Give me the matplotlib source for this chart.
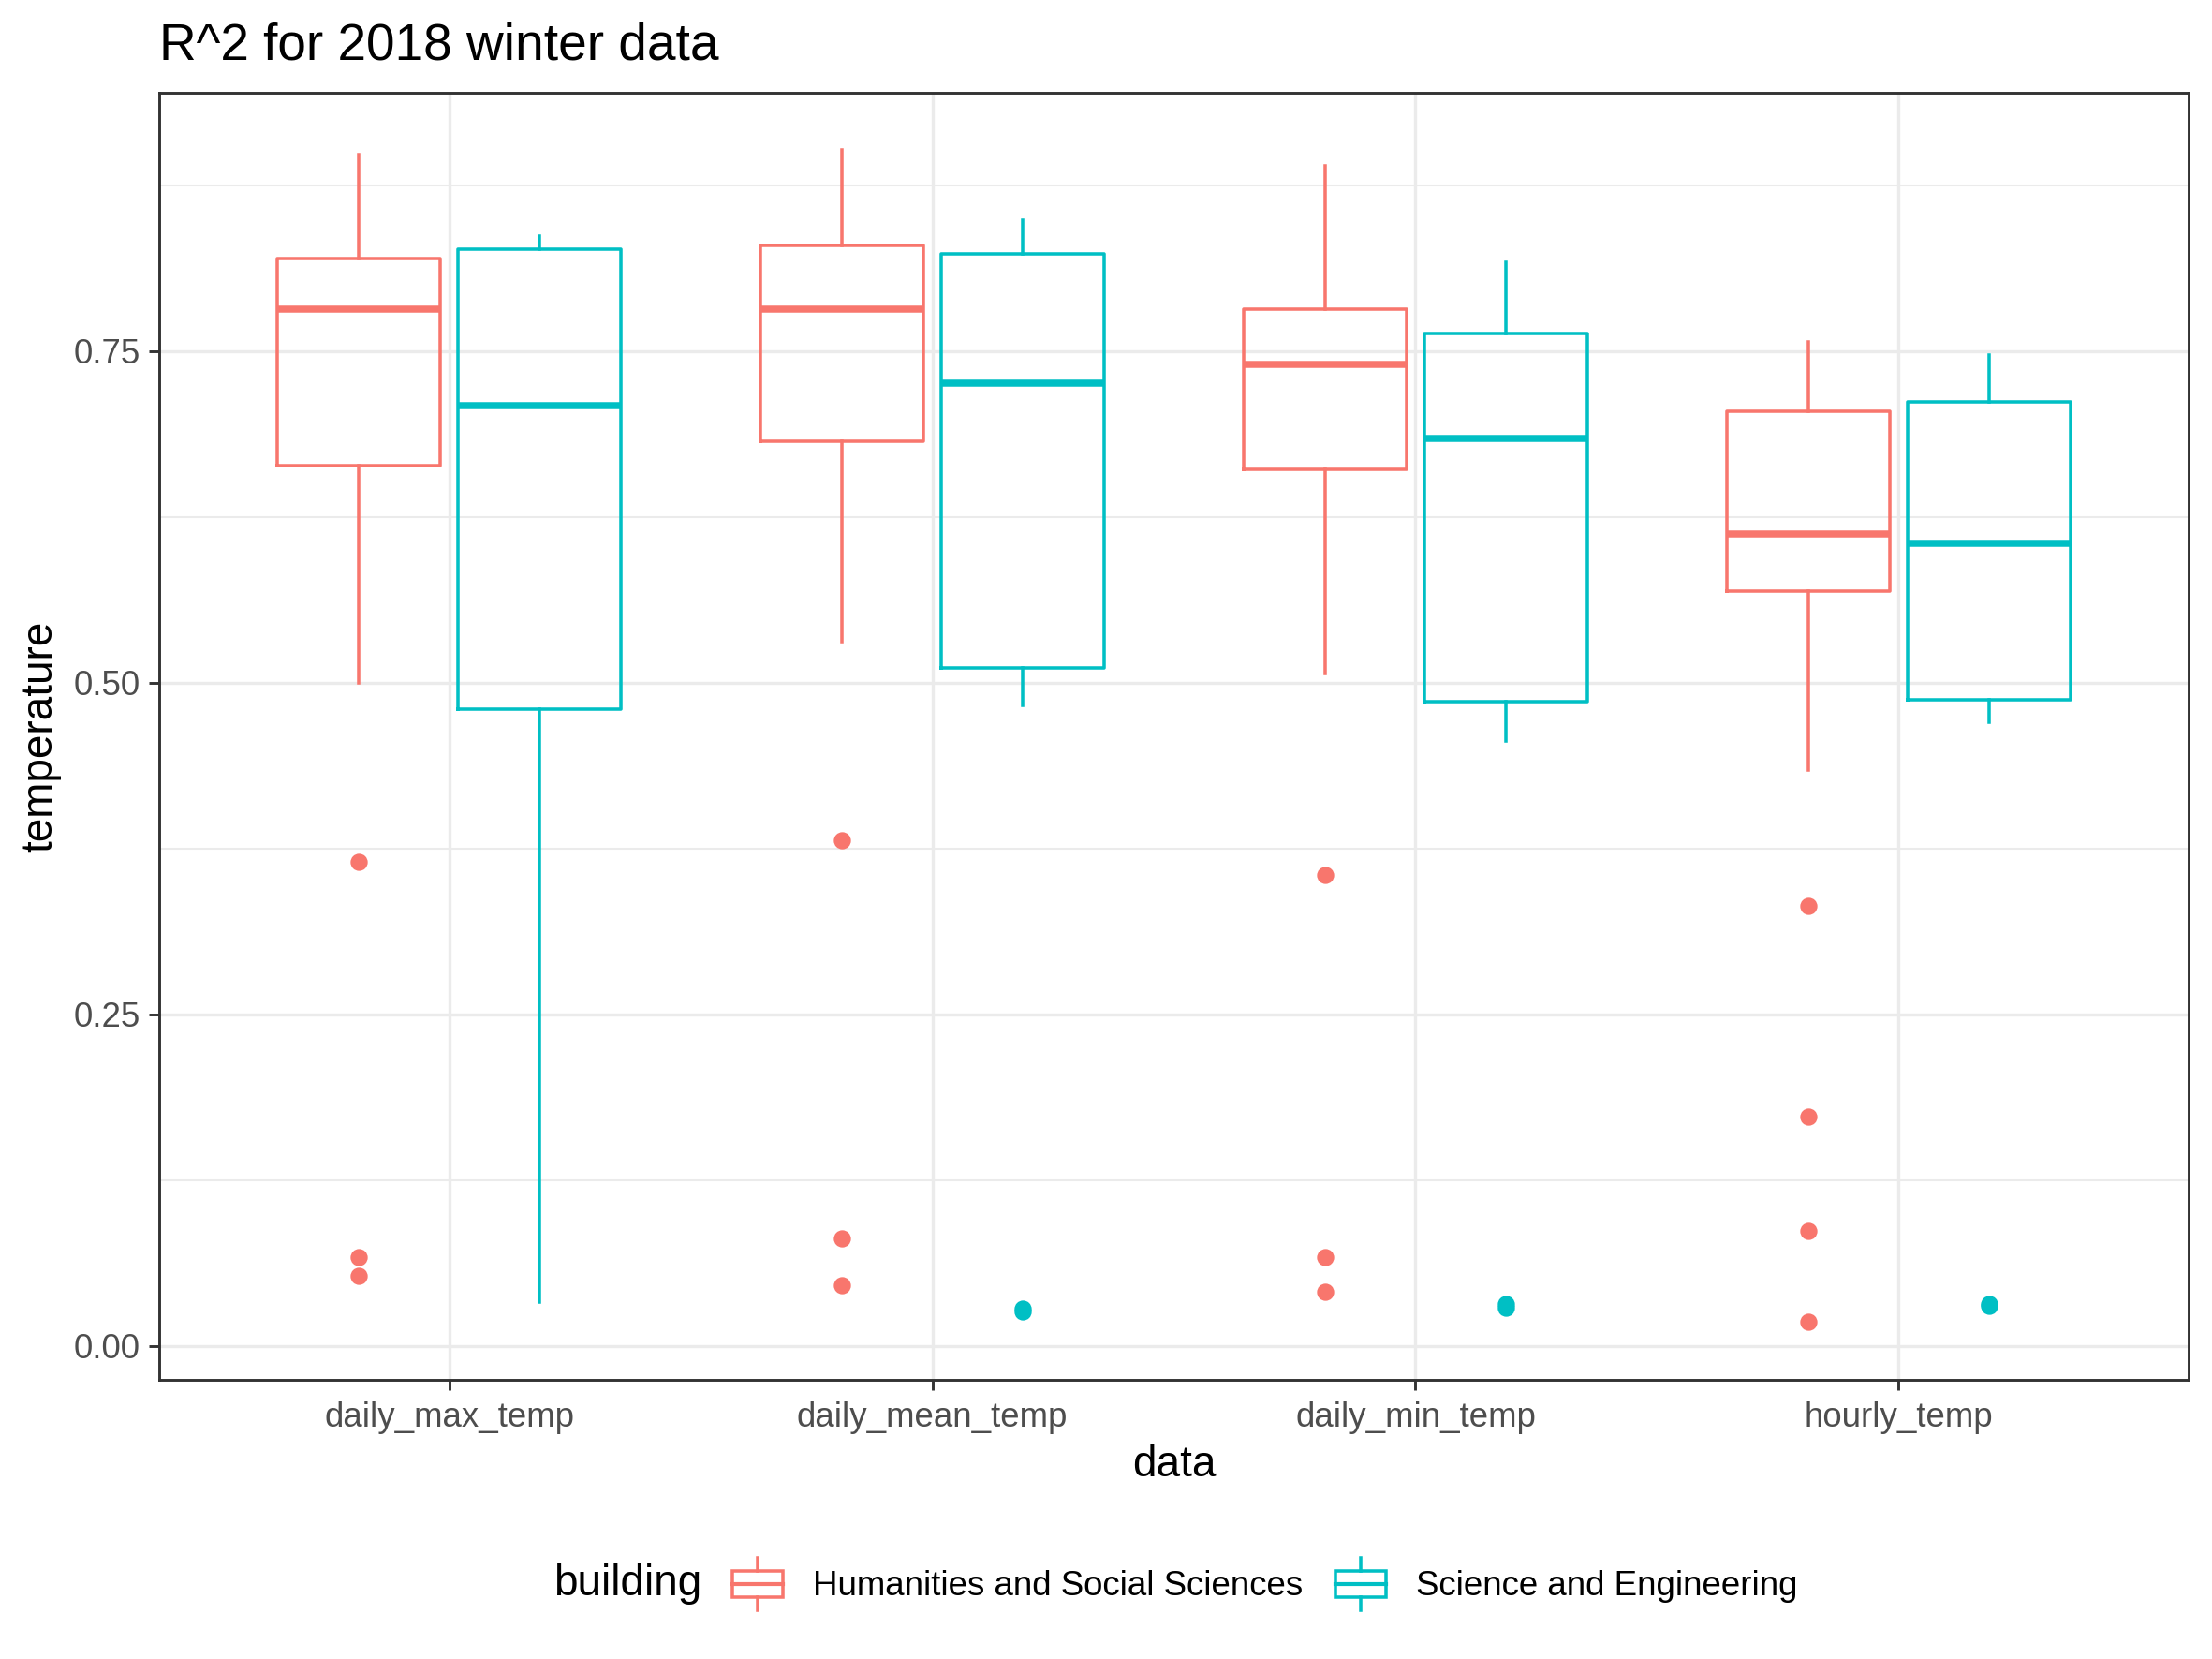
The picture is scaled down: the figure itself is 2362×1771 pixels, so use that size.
import numpy as np
import matplotlib
matplotlib.use("Agg")
import matplotlib.pyplot as plt
from matplotlib.patches import Rectangle
from matplotlib.lines import Line2D
from matplotlib.legend_handler import HandlerBase

# Data
categories = ["daily_max_temp", "daily_mean_temp", "daily_min_temp", "hourly_temp"]
groups = ["Humanities and Social Sciences", "Science and Engineering"]
colours = ["#F8766D", "#00BFC4"]

# Humanities and Social Sciences
hss_low = [0.500, 0.531, 0.507, 0.434]
hss_q1 = [0.664, 0.682, 0.661, 0.569]
hss_med = [0.782, 0.782, 0.740, 0.612]
hss_q3 = [0.820, 0.830, 0.782, 0.705]
hss_high = [0.898, 0.902, 0.890, 0.757]
hss_out = [[0.365, 0.067, 0.053],
           [0.381, 0.081, 0.046],
           [0.355, 0.067, 0.041],
           [0.332, 0.173, 0.087, 0.018]]

# Science and Engineering
se_low = [0.033, 0.483, 0.456, 0.470]
se_q1 = [0.480, 0.511, 0.486, 0.487]
se_med = [0.709, 0.726, 0.684, 0.605]
se_q3 = [0.827, 0.823, 0.763, 0.712]
se_high = [0.837, 0.849, 0.817, 0.747]
se_out = [[],
          [0.028, 0.026],
          [0.032, 0.029],
          [0.032, 0.030]]


class BoxKey(HandlerBase):
    # ggplot-like boxplot legend key
    def create_artists(self, legend, orig_handle, xdescent, ydescent,
                       width, height, fontsize, trans):
        c = orig_handle.get_color()
        x0, y0 = -xdescent, -ydescent
        box = Rectangle((x0 + 0.125 * width, y0 + 0.25 * height),
                        0.75 * width, 0.5 * height, fill=False,
                        edgecolor=c, lw=0.85, transform=trans)
        med = Line2D([x0 + 0.125 * width, x0 + 0.875 * width],
                     [y0 + 0.5 * height] * 2, color=c, lw=1.0, transform=trans)
        wlo = Line2D([x0 + 0.5 * width] * 2, [y0, y0 + 0.25 * height],
                     color=c, lw=0.85, transform=trans)
        whi = Line2D([x0 + 0.5 * width] * 2, [y0 + 0.75 * height, y0 + height],
                     color=c, lw=0.85, transform=trans)
        return [box, med, wlo, whi]


plt.rcParams["font.family"] = ["Liberation Sans", "DejaVu Sans"]

fig = plt.figure(figsize=(2362 / 300, 1771 / 300), dpi=300)
ax = fig.add_axes([0.072, 0.1683, 0.9174, 0.7757])

# boxes
sources = [
    (hss_low, hss_q1, hss_med, hss_q3, hss_high, hss_out),
    (se_low, se_q1, se_med, se_q3, se_high, se_out),
]
offsets = [-0.1875, 0.1875]
x = np.arange(1, len(categories) + 1)

for src, colour, offset in zip(sources, colours, offsets):
    low, q1, med, q3, high, out = src
    stats = []
    for i in range(len(categories)):
        stats.append(dict(whislo=low[i], q1=q1[i], med=med[i], q3=q3[i],
                          whishi=high[i], fliers=np.array(out[i])))
    ax.bxp(stats, positions=x + offset, widths=0.3375, showcaps=False,
           boxprops=dict(color=colour, lw=0.85),
           whiskerprops=dict(color=colour, lw=0.85),
           medianprops=dict(color=colour, lw=1.8, solid_capstyle="butt"),
           flierprops=dict(marker="o", markerfacecolor=colour,
                           markeredgecolor=colour, markersize=3.4,
                           linestyle="none"),
           manage_ticks=False)

# axes styling (theme_bw look)
ax.set_xlim(0.4, 4.6)
ax.set_ylim(-0.0255, 0.9447)
ax.set_xticks(x)
ax.set_xticklabels(categories)
ax.set_yticks([0, 0.25, 0.5, 0.75])
ax.set_yticklabels(["0.00", "0.25", "0.50", "0.75"])
ax.set_yticks([0.125, 0.375, 0.625, 0.875], minor=True)
ax.set_axisbelow(True)
ax.grid(which="major", color="#EBEBEB", lw=0.8)
ax.grid(which="minor", axis="y", color="#EBEBEB", lw=0.5)
ax.tick_params(which="major", length=2.75, width=0.7, color="#333333",
               labelcolor="#4D4D4D", labelsize=8.8, pad=2.2)
ax.tick_params(axis="x", which="major", pad=2.9)
ax.tick_params(which="minor", length=0)
for sp in ax.spines.values():
    sp.set_color("#333333")
    sp.set_linewidth(0.7)

ax.set_xlabel("data", fontsize=11, labelpad=2.6)
ax.set_ylabel("temperature", fontsize=11, labelpad=3)

fig.text(0.072, 1 - 63 / 1771, "R^2 for 2018 winter data", fontsize=13.2,
         ha="left", va="baseline")

# legend
handles = [Line2D([], [], color=c) for c in colours]
fig.legend(handles, groups, loc="center left",
           bbox_to_anchor=(773 / 2362, 0.0452), ncol=2, frameon=False,
           fontsize=8.8, handlelength=1.96, handleheight=1.96,
           handletextpad=0.63, columnspacing=0.7, borderpad=0,
           borderaxespad=0, handler_map={Line2D: BoxKey()})
fig.text(749 / 2362, 0.0452, "building", fontsize=11, ha="right", va="center")

fig.savefig("out.png", dpi=300)
plt.close(fig)
